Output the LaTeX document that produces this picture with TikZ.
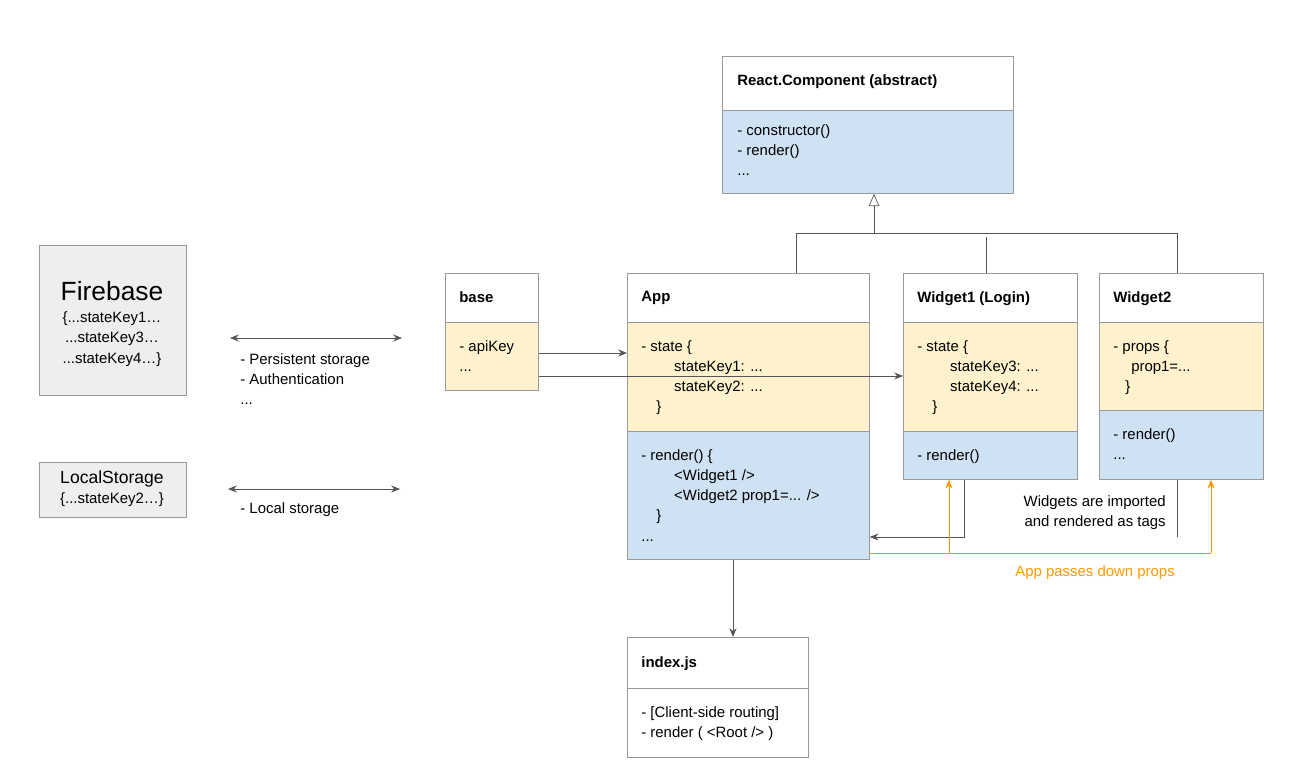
\documentclass[tikz,border=0pt]{standalone}
\usepackage{fontspec}
\setmainfont{Liberation Sans}
\usetikzlibrary{arrows.meta,positioning}
\definecolor{stateyel}{HTML}{FFF2CC}
\definecolor{methblue}{HTML}{CFE2F3}
\definecolor{boxgray}{HTML}{EEEEEE}
\definecolor{propsorange}{HTML}{FF9900}
\definecolor{linegray}{HTML}{555555}
\begin{document}
\begin{tikzpicture}[x=0.02cm, y=-0.02cm,
        font=\fontsize{8.5}{11.5}\selectfont,
        part/.style={draw=gray!80, anchor=north west, inner sep=0pt},
        txt/.style={anchor=north west, align=left, inner sep=0pt},
        conn/.style={draw=linegray, -{Stealth[length=5pt,width=4pt]}},
        both/.style={draw=linegray, {Stealth[length=5pt,width=4pt]}-{Stealth[length=5pt,width=4pt]}},
        pass/.style={draw=propsorange, -{Stealth[length=5pt,width=4pt]}}]
        \useasboundingbox (0, 0) rectangle (1308, 779);
        % React.Component
        \node[part, minimum width=291*0.02cm, minimum height=54*0.02cm, fill=white] (rch) at (722, 56) {};
        \node[part, minimum width=291*0.02cm, minimum height=83*0.02cm, fill=methblue] (rcb) at (722, 110) {};
        \node[txt, font=\fontsize{8.5}{11.5}\selectfont\bfseries] at (737, 74) {React.Component (abstract)};
        \node[txt] at (737, 124) {- constructor()\\- render()\\...};
        % Firebase / LocalStorage
        \node[part, minimum width=147*0.02cm, minimum height=150*0.02cm, fill=boxgray] (fire) at (39, 245) {};
        \node[font=\fontsize{15}{18}\selectfont] (firet) at (112, 291) {Firebase};
        \node[align=center, inner sep=0pt] at (112, 339) {\{...stateKey1…\\...stateKey3…\\...stateKey4…\}};
        \node[part, minimum width=147*0.02cm, minimum height=55*0.02cm, fill=boxgray] (local) at (39, 462) {};
        \node[align=center, inner sep=0pt] at (112, 489) {\fontsize{10}{12}\selectfont LocalStorage\\\{...stateKey2…\}};
        \coordinate (fa) at (230, 338); \coordinate (fb) at (402, 338);
        \coordinate (la) at (228, 489); \coordinate (lb) at (400, 489);
        \draw[both] (fa) -- (fb);
        \draw[both] (la) -- (lb);
        \node[txt] at (240, 353) {- Persistent storage\\- Authentication\\...};
        \node[txt] at (240, 502) {- Local storage};
        % base
        \node[part, minimum width=93*0.02cm, minimum height=49*0.02cm, fill=white] (baseh) at (445, 273) {};
        \node[part, minimum width=93*0.02cm, minimum height=68*0.02cm, fill=stateyel] (baseb) at (445, 322) {};
        \node[txt, font=\fontsize{8.5}{11.5}\selectfont\bfseries] at (459, 291) {base};
        \node[txt] at (459, 340) {- apiKey\\...};
        % App
        \node[part, minimum width=242*0.02cm, minimum height=49*0.02cm, fill=white] (apph) at (627, 273) {};
        \node[part, minimum width=242*0.02cm, minimum height=109*0.02cm, fill=stateyel] (apps) at (627, 322) {};
        \node[part, minimum width=242*0.02cm, minimum height=128*0.02cm, fill=methblue] (appr) at (627, 431) {};
        \node[txt, font=\fontsize{8.5}{11.5}\selectfont\bfseries] at (641, 291) {App};
        \node[txt] at (641, 340) {- state \{\\\hspace*{2.2em}stateKey1: ...\\\hspace*{2.2em}stateKey2: ...\\\hspace*{1em}\}};
        \node[txt] at (641, 449) {- render() \{\\\hspace*{2.2em}<Widget1 />\\\hspace*{2.2em}<Widget2 prop1=... />\\\hspace*{1em}\}\\...};
        % Widget1
        \node[part, minimum width=174*0.02cm, minimum height=49*0.02cm, fill=white] (w1h) at (903, 273) {};
        \node[part, minimum width=174*0.02cm, minimum height=109*0.02cm, fill=stateyel] (w1s) at (903, 322) {};
        \node[part, minimum width=174*0.02cm, minimum height=48*0.02cm, fill=methblue] (w1r) at (903, 431) {};
        \node[txt, font=\fontsize{8.5}{11.5}\selectfont\bfseries] at (917, 291) {Widget1 (Login)};
        \node[txt] at (917, 340) {- state \{\\\hspace*{2.2em}stateKey3: ...\\\hspace*{2.2em}stateKey4: ...\\\hspace*{1em}\}};
        \node[txt] at (917, 449) {- render()};
        % Widget2
        \node[part, minimum width=164*0.02cm, minimum height=49*0.02cm, fill=white] (w2h) at (1099, 273) {};
        \node[part, minimum width=164*0.02cm, minimum height=88*0.02cm, fill=stateyel] (w2s) at (1099, 322) {};
        \node[part, minimum width=164*0.02cm, minimum height=69*0.02cm, fill=methblue] (w2r) at (1099, 410) {};
        \node[txt, font=\fontsize{8.5}{11.5}\selectfont\bfseries] at (1113, 291) {Widget2};
        \node[txt] at (1113, 340) {- props \{\\\hspace*{1.2em}prop1=...\\\hspace*{0.8em}\}};
        \node[txt] at (1113, 428) {- render()\\...};
        % index.js
        \node[part, minimum width=181*0.02cm, minimum height=51*0.02cm, fill=white] (idxh) at (627, 637) {};
        \node[part, minimum width=181*0.02cm, minimum height=69*0.02cm, fill=white] (idxb) at (627, 688) {};
        \node[txt, font=\fontsize{8.5}{11.5}\selectfont\bfseries] at (641, 656) {index.js};
        \node[txt] at (641, 706) {- [Client-side routing]\\- render ( <Root /> )};
        % inheritance
        \coordinate (join) at (874, 233);
        \draw[draw=linegray, -{Triangle[open, length=7pt, width=6pt]}] (join) -- (rcb.south -| join);
        \draw[linegray] (apph.north -| 796, 0) |- (join) -| (w2h.north -| 1177, 0);
        \draw[linegray] (986, 237) -- (w1h.north -| 986, 0);
        % base links
        \draw[conn] (baseb.east |- 0, 353) -- (apps.west |- 0, 353);
        \draw[conn] (baseb.east |- 0, 376) -- (w1s.west |- 0, 376);
        % imports
        \coordinate (imp) at (1177, 537);
        \draw[conn] (w1r.south -| 964, 0) |- (appr.east |- imp);
        \draw[linegray] (w2r.south -| imp) -- (imp);
        \node[txt, align=right, anchor=north east] at (1166, 495) {Widgets are imported\\and rendered as tags};
        % props
        \coordinate (pa) at (949, 553); \coordinate (pb) at (1211, 553);
        \draw[propsorange] (appr.east |- pa) -- (pb);
        \draw[pass] (pa) -- (w1r.south -| pa);
        \draw[pass] (pb) -- (w2r.south -| pb);
        \node[txt, text=propsorange] at (1015, 565) {App passes down props};
        % render root
        \draw[conn] (appr.south -| 733, 0) -- (idxh.north -| 733, 0);
\end{tikzpicture}
\end{document}
